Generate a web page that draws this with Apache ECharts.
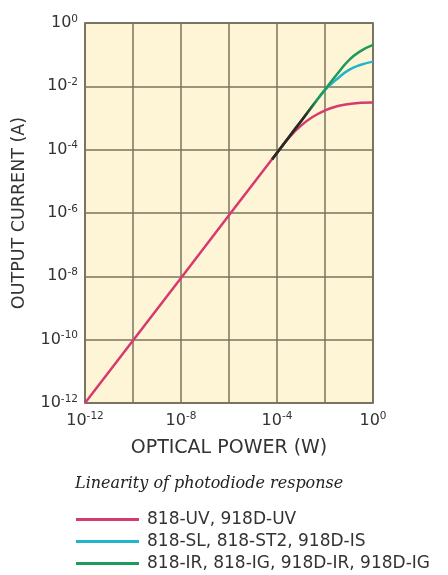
<!DOCTYPE html>
<html><head><meta charset="utf-8">
<script src="https://cdn.jsdelivr.net/npm/echarts@6/dist/echarts.min.js"></script>
<style>html,body{margin:0;padding:0;background:#fff}#c{width:448px;height:575px}</style>
</head><body><div id="c"></div>
<script>
// exponents (log10) of optical power (W) and output current (A)
const xTickExps = [-12, -8, -4, 0];
const yTickExps = [-12, -10, -8, -6, -4, -2, 0];
const seriesNames = ['818-UV, 918D-UV', '818-SL, 818-ST2, 918D-IS', '818-IR, 818-IG, 918D-IR, 918D-IG'];
const uvPowerExp = [-12, -8, -4, -3.5, -3, -2.5, -2, -1.5, -1, -0.5, 0];
const uvCurrentExp = [-12, -8.05, -4.1, -3.62, -3.24, -2.96, -2.76, -2.63, -2.56, -2.52, -2.51];
const slPowerExp = [-4.2, -3.5, -3, -2.5, -2, -1.5, -1, -0.5, 0];
const slCurrentExp = [-4.3, -3.6, -3.1, -2.6, -2.12, -1.77, -1.48, -1.32, -1.22];
const irPowerExp = [-4.2, -3.5, -3, -2.5, -2, -1.5, -1, -0.5, 0];
const irCurrentExp = [-4.3, -3.6, -3.1, -2.6, -2.1, -1.62, -1.17, -0.88, -0.69];

const colors = ['#d63a6f', '#22b4cb', '#1d9a5c'];
const zip = (a, b) => a.map((v, i) => [v, b[i]]);
const grad = (c) => new echarts.graphic.LinearGradient(0, 0, 1, 0, [
  {offset: 0, color: '#2a2a22'}, {offset: 0.33, color: '#2a2a22'}, {offset: 0.45, color: c}, {offset: 1, color: c}
]);
const FONT = 'DejaVu Sans';
const rich = {
  b: {fontSize: 16, color: '#333', fontFamily: FONT},
  s: {fontSize: 10.5, color: '#333', fontFamily: FONT, padding: [0, 0, 8, 0]}
};
const chart = echarts.init(document.getElementById('c'), null, {renderer: 'canvas'});
chart.setOption({
  animation: false,
  title: {
    text: 'Linearity of photodiode response', left: 70, top: 471,
    textStyle: {fontFamily: 'DejaVu Serif', fontStyle: 'italic', fontWeight: 'normal', fontSize: 16, color: '#222'}
  },
  legend: {
    orient: 'vertical', left: 76, top: 511, padding: 0, itemWidth: 63, itemHeight: 3, itemGap: 5,
    icon: 'rect', height: 70,
    textStyle: {fontFamily: FONT, fontSize: 17, color: '#333', padding: [0, 0, 0, 3]},
    data: seriesNames.map((n, i) => ({name: n, itemStyle: {color: colors[i]}}))
  },
  grid: {left: 85, top: 23, right: 75, bottom: 172, show: true, backgroundColor: '#fdf5d6', borderColor: '#55523f', borderWidth: 1.5},
  xAxis: {
    type: 'value', min: -12, max: 0, interval: 2,
    name: 'OPTICAL POWER (W)', nameLocation: 'middle', nameGap: 36,
    nameTextStyle: {fontFamily: FONT, fontSize: 19, color: '#333'},
    axisLine: {show: false}, axisTick: {show: false},
    splitLine: {show: true, lineStyle: {color: '#77735c', width: 1.5}},
    axisLabel: {margin: 8, rich, formatter: v => xTickExps.includes(v) ? '{b|10}{s|' + v + '}' : ''}
  },
  yAxis: {
    type: 'value', min: -12, max: 0, interval: 2,
    name: 'OUTPUT CURRENT (A)', nameLocation: 'middle', nameGap: 57,
    nameTextStyle: {fontFamily: FONT, fontSize: 17.5, color: '#333'},
    axisLine: {show: false}, axisTick: {show: false},
    splitLine: {show: true, lineStyle: {color: '#77735c', width: 1.5}},
    axisLabel: {margin: 7, rich, formatter: v => yTickExps.includes(v) ? '{b|10}{s|' + v + '}' : ''}
  },
  series: [
    {name: seriesNames[0], type: 'line', data: zip(uvPowerExp, uvCurrentExp), showSymbol: false, smooth: 0.5,
     color: colors[0], lineStyle: {width: 2.5, color: colors[0]}, z: 2},
    {name: seriesNames[1], type: 'line', data: zip(slPowerExp, slCurrentExp), showSymbol: false, smooth: 0.5,
     color: colors[1], lineStyle: {width: 2.5, color: grad(colors[1])}, z: 3},
    {name: seriesNames[2], type: 'line', data: zip(irPowerExp, irCurrentExp), showSymbol: false, smooth: 0.5,
     color: colors[2], lineStyle: {width: 2.5, color: grad(colors[2])}, z: 4}
  ]
});
</script></body></html>
